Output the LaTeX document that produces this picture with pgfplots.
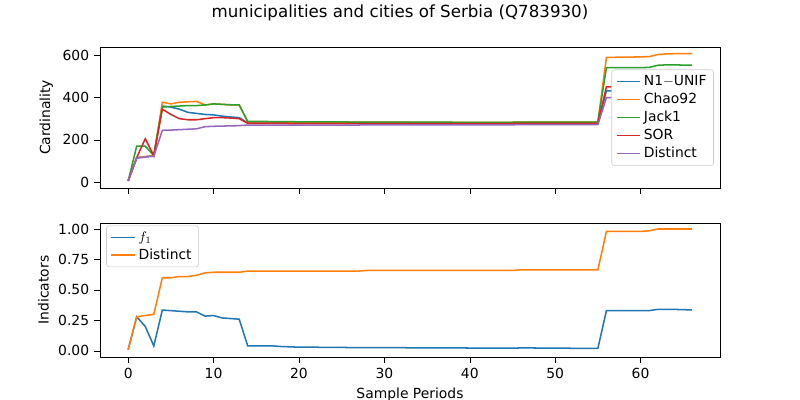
\documentclass[border=0pt]{standalone}
\usepackage{pgfplots}
\pgfplotsset{compat=1.18}
\usepackage{pgfplotstable}
\usepackage{fontspec}
\setmainfont{DejaVu Sans}
\definecolor{c0}{HTML}{1F77B4}\definecolor{c1}{HTML}{FF7F0E}\definecolor{c2}{HTML}{2CA02C}\definecolor{c3}{HTML}{D62728}\definecolor{c4}{HTML}{9467BD}
\pgfplotstableread{
x n1 chao jack sor dist f1 df
0 5 5 5 5 5 0.01 0.01
1 115 115 170 115 113 0.28 0.28
2 120 120 170 205 118 0.2 0.29
3 125 125 125 125 122 0.04 0.30
4 360 378 355 345 245 0.335 0.60
5 355 370 358 320 246 0.33 0.60
6 345 378 360 300 248 0.325 0.61
7 330 380 362 295 250 0.32 0.61
8 325 382 362 295 252 0.32 0.62
9 320 365 365 300 262 0.285 0.64
10 318 370 370 305 264 0.29 0.645
11 312 368 368 305 265 0.27 0.645
12 308 365 366 303 266 0.265 0.645
13 305 365 365 300 267 0.26 0.645
14 280 285 287 278 270 0.04 0.655
15 280 285 287 278 270 0.04 0.655
16 280 285 287 278 270 0.04 0.655
17 280 285 286 278 270 0.04 0.655
18 280 285 286 278 270 0.035 0.655
19 280 284 286 277 270 0.033 0.655
20 280 284 285 277 270 0.03 0.655
21 280 284 285 277 270 0.03 0.655
22 280 284 285 277 270 0.03 0.655
23 280 284 285 277 270 0.028 0.655
24 280 284 285 277 270 0.028 0.655
25 280 284 285 277 270 0.028 0.655
26 280 284 284 277 270 0.027 0.655
27 280 284 284 277 270 0.027 0.655
28 279 284 284 277 271 0.026 0.66
29 279 284 284 277 271 0.026 0.66
30 279 284 284 277 271 0.026 0.66
31 279 284 284 277 271 0.026 0.66
32 279 284 284 277 271 0.026 0.66
33 279 283 284 277 271 0.025 0.66
34 279 283 284 277 271 0.025 0.66
35 279 283 284 277 271 0.025 0.66
36 279 283 284 277 271 0.025 0.66
37 279 283 284 277 271 0.024 0.66
38 279 283 283 277 271 0.024 0.66
39 279 283 283 277 271 0.024 0.66
40 279 283 283 277 271 0.023 0.66
41 279 283 283 277 271 0.023 0.66
42 279 283 283 277 271 0.023 0.66
43 279 283 283 277 271 0.023 0.66
44 279 283 283 277 271 0.022 0.66
45 279 283 283 277 271 0.022 0.66
46 280 284 284 278 272 0.024 0.665
47 280 284 284 278 272 0.024 0.665
48 280 284 284 278 272 0.023 0.665
49 280 284 284 278 272 0.022 0.665
50 280 284 284 278 272 0.022 0.665
51 280 284 284 278 272 0.022 0.665
52 280 284 284 278 272 0.021 0.665
53 280 284 284 278 272 0.021 0.665
54 280 284 284 278 272 0.02 0.665
55 280 284 284 278 272 0.02 0.665
56 432 590 542 451 400 0.33 0.98
57 432 591 542 451 400 0.33 0.98
58 432 592 542 451 400 0.33 0.98
59 432 592 542 451 400 0.33 0.98
60 432 593 542 451 400 0.33 0.98
61 432 594 543 451 401 0.33 0.985
62 435 604 553 455 408 0.34 1.0
63 435 607 555 455 408 0.34 1.0
64 435 608 555 455 408 0.34 1.0
65 435 608 554 455 408 0.338 1.0
66 435 609 554 455 408 0.336 1.0
}\data
\begin{document}
\fontsize{10}{12}\selectfont
\begin{tikzpicture}
\pgfplotsset{every axis/.style={scale only axis, width=446.4pt, xmin=-3.3, xmax=69.3,
 /pgf/number format/assume math mode=true, tick align=outside, tick style={black}, xtick pos=left, ytick pos=left, every tick label/.style={font=\fontsize{10}{12}\selectfont}, label style={font=\fontsize{10}{12}\selectfont},
 legend style={font=\fontsize{10}{12}\selectfont, draw=black!20, rounded corners=2pt, fill=white, cells={anchor=west}},
 legend cell align=left, xtick={0,10,...,60}, axis line style={black}}}
\path[use as bounding box] (-72pt,-31pt) rectangle (504pt,257pt);
\node at (216pt,248pt) {\fontsize{12}{14}\selectfont municipalities and cities of Serbia (Q783930)};
\begin{axis}[at={(0,121.7pt)}, height=101.5pt, ymin=-28, ymax=640, ytick={0,200,400,600}, xticklabels={}, ylabel={Cardinality},
 legend style={at={(0.99,0.84)}, anchor=north east}]
\addplot[color=c0, line width=1.1pt] table[x=x,y=n1]{\data};\addlegendentry{N1$-$UNIF}
\addplot[color=c1, line width=1.1pt] table[x=x,y=chao]{\data};\addlegendentry{Chao92}
\addplot[color=c2, line width=1.1pt] table[x=x,y=jack]{\data};\addlegendentry{Jack1}
\addplot[color=c3, line width=1.1pt] table[x=x,y=sor]{\data};\addlegendentry{SOR}
\addplot[color=c4, line width=1.1pt] table[x=x,y=dist]{\data};\addlegendentry{Distinct}
\end{axis}
\begin{axis}[at={(0,0)}, height=96.5pt, ymin=-0.05, ymax=1.05, ytick={0,0.25,0.5,0.75,1}, yticklabel style={/pgf/number format/.cd,fixed,fixed zerofill,precision=2}, xlabel={Sample Periods}, ylabel={Indicators},
 legend style={at={(0.01,0.98)}, anchor=north west}]
\addplot[color=c0, line width=1.1pt] table[x=x,y=f1]{\data};\addlegendentry{$f_1$}
\addplot[color=c1, line width=1.1pt] table[x=x,y=df]{\data};\addlegendentry{Distinct}
\end{axis}
\end{tikzpicture}
\end{document}
